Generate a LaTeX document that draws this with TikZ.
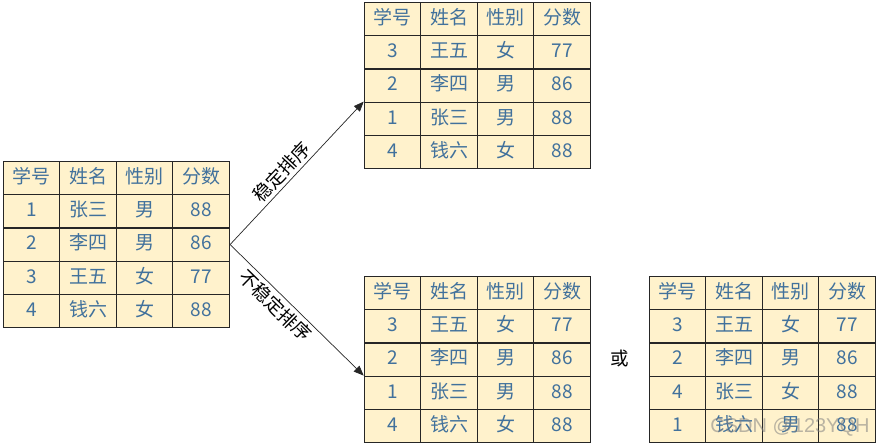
\documentclass[tikz,border=0pt]{standalone}
\usepackage{fontspec}
\setmainfont{Noto Sans CJK SC}
\newfontfamily\wmfont{Liberation Sans}
\usetikzlibrary{matrix,arrows.meta}
\definecolor{cellfill}{HTML}{FFF2CC}
\definecolor{celltext}{HTML}{41719C}
\definecolor{gridline}{HTML}{262626}
\tikzset{
  tbl/.style={matrix of nodes, ampersand replacement=\&, inner sep=0pt, anchor=north west,
    column sep=-1.2pt, row sep=-1.2pt,
    nodes={draw=gridline, line width=1.2pt, fill=cellfill, text=celltext,
      minimum width=56.5pt, minimum height=33.3pt, inner sep=0pt,
      font=\fontsize{19}{22}\selectfont, text height=14pt, text depth=3.5pt}},
  arr/.style={-{Triangle[length=10pt,width=8pt]}, line width=0.7pt, draw=black!85},
  lbl/.style={font=\fontsize{18.5}{22}\selectfont, sloped, inner sep=3pt},
}
\begin{document}
\begin{tikzpicture}[x=1pt,y=-1pt]
\fill[white] (0,0) rectangle (878,447);
\useasboundingbox (0,0) rectangle (878,447);

\matrix (L) [tbl] at (2.5,160.5) {
学号 \& 姓名 \& 性别 \& 分数 \\
1 \& 张三 \& 男 \& 88 \\
2 \& 李四 \& 男 \& 86 \\
3 \& 王五 \& 女 \& 77 \\
4 \& 钱六 \& 女 \& 88 \\
};

\matrix (T) [tbl] at (363.5,1.5) {
学号 \& 姓名 \& 性别 \& 分数 \\
3 \& 王五 \& 女 \& 77 \\
2 \& 李四 \& 男 \& 86 \\
1 \& 张三 \& 男 \& 88 \\
4 \& 钱六 \& 女 \& 88 \\
};

\matrix (B) [tbl] at (363.5,275.5) {
学号 \& 姓名 \& 性别 \& 分数 \\
3 \& 王五 \& 女 \& 77 \\
2 \& 李四 \& 男 \& 86 \\
1 \& 张三 \& 男 \& 88 \\
4 \& 钱六 \& 女 \& 88 \\
};

\matrix (R) [tbl] at (648.5,275.5) {
学号 \& 姓名 \& 性别 \& 分数 \\
3 \& 王五 \& 女 \& 77 \\
2 \& 李四 \& 男 \& 86 \\
4 \& 张三 \& 女 \& 88 \\
1 \& 钱六 \& 男 \& 88 \\
};

\draw[arr] (L.east) -- node[lbl, pos=0.45, above] (s1) {稳定排序} (T-4-1.north west);
\draw[arr] (L.east) -- node[lbl, pos=0.40, below] (s2) {不稳定排序} (B-4-1.north west);

\node[font=\fontsize{18.5}{22}\selectfont] (or) at (620,358) {或};

\node[font=\wmfont\fontsize{20}{20}\selectfont, text=gray, opacity=0.55] (wm) at (790,427) {CSDN @123YQH};
\end{tikzpicture}
\end{document}
